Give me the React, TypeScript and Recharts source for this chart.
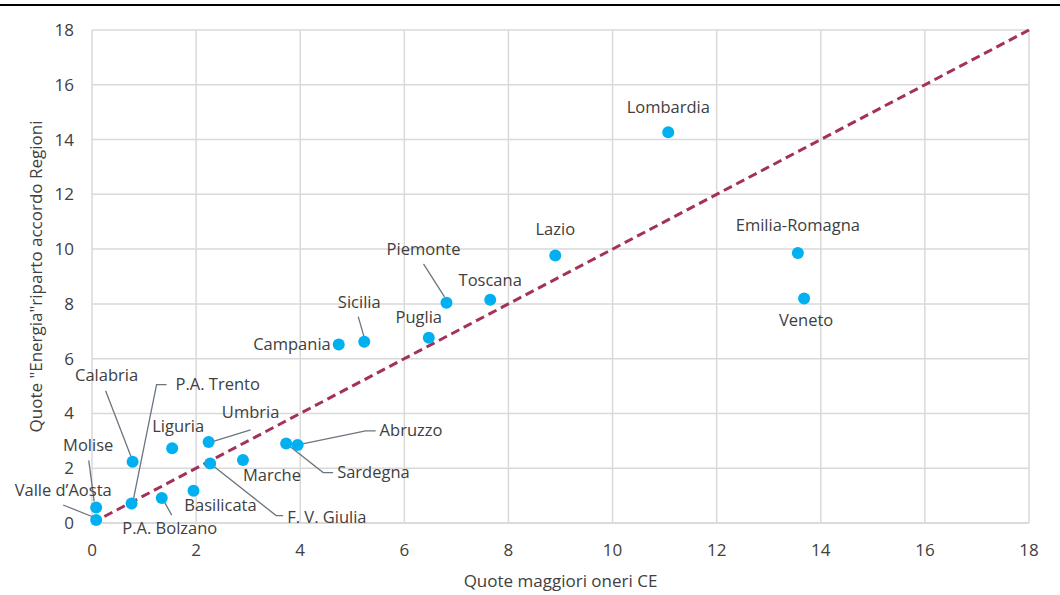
import React from 'react';
import {
  CartesianGrid,
  Label,
  ReferenceLine,
  Scatter,
  ScatterChart,
  XAxis,
  YAxis,
} from 'recharts';

const regions = [
  'Lombardia', 'Emilia-Romagna', 'Veneto', 'Lazio', 'Toscana', 'Piemonte', 'Puglia',
  'Sicilia', 'Campania', 'Liguria', 'Umbria', 'Calabria', 'P.A. Trento', 'Molise',
  'Valle d\u2019Aosta', 'P.A. Bolzano', 'Basilicata', 'Marche', 'F. V. Giulia',
  'Sardegna', 'Abruzzo',
];
const quoteCE = [
  11.07, 13.56, 13.68, 8.9, 7.65, 6.81, 6.47,
  5.23, 4.74, 1.54, 2.24, 0.78, 0.76, 0.08,
  0.08, 1.34, 1.95, 2.9, 2.27,
  3.73, 3.95,
];
const quoteEnergia = [
  14.27, 9.86, 8.2, 9.77, 8.15, 8.04, 6.76,
  6.62, 6.52, 2.73, 2.96, 2.24, 0.71, 0.57,
  0.11, 0.91, 1.18, 2.3, 2.17,
  2.9, 2.85,
];
const xTicks = [0, 2, 4, 6, 8, 10, 12, 14, 16, 18];
const yTicks = [0, 2, 4, 6, 8, 10, 12, 14, 16, 18];

const data = regions.map((name, i) => ({ name, x: quoteCE[i], y: quoteEnergia[i] }));

// label placement, pixels relative to the dot
type Place = { dx: number; dy: number; anchor?: 'start' | 'middle' | 'end'; leader?: number[][] };
const labelPlace: Record<string, Place> = {
  Lombardia: { dx: 0, dy: -26 },
  'Emilia-Romagna': { dx: 0, dy: -28 },
  Veneto: { dx: 2, dy: 21 },
  Lazio: { dx: 0, dy: -27 },
  Toscana: { dx: 0, dy: -20 },
  Piemonte: { dx: -23, dy: -54, leader: [[-23, -39], [-2, -6]] },
  Puglia: { dx: -10, dy: -21 },
  Sicilia: { dx: -5, dy: -40, leader: [[-6, -25], [0, -4]] },
  Campania: { dx: -8, dy: -1, anchor: 'end' },
  Liguria: { dx: 6, dy: -23 },
  Umbria: { dx: 42, dy: -30, leader: [[42, -12], [3, 0]] },
  Calabria: { dx: -26, dy: -87, leader: [[-27, -71], [0, -1]] },
  'P.A. Trento': { dx: 44, dy: -120, anchor: 'start', leader: [[35, -119], [25, -119], [1.6, -3]] },
  Molise: { dx: -8, dy: -63, leader: [[-7.4, -47], [-2, -6]] },
  'Valle d\u2019Aosta': { dx: -33, dy: -30, leader: [[-33, -15], [-3, -3]] },
  'P.A. Bolzano': { dx: 8, dy: 29, leader: [[10, 17], [1, 1]] },
  Basilicata: { dx: 27, dy: 14 },
  Marche: { dx: 29, dy: 14 },
  'F. V. Giulia': { dx: 77, dy: 53, anchor: 'start', leader: [[0, 0], [66, 52], [73, 52]] },
  Sardegna: { dx: 51, dy: 28, anchor: 'start', leader: [[0, 0], [37, 29], [47, 29]] },
  Abruzzo: { dx: 82, dy: -15, anchor: 'start', leader: [[0, 0], [68, -14], [78, -14]] },
};

const FONT = '"Open Sans", sans-serif';
const TEXT = '#404040';

const RegionDot = (props: any) => {
  const { cx, cy, payload } = props;
  const p = labelPlace[payload.name] || { dx: 0, dy: -20 };
  return (
    <g>
      {p.leader && (
        <polyline
          points={p.leader.map(([a, b]) => `${cx + a},${cy + b}`).join(' ')}
          fill="none"
          stroke="#6b7580"
          strokeWidth={1.3}
        />
      )}
      <circle cx={cx} cy={cy} r={6} fill="#00b0f0" />
      <text
        x={cx + p.dx}
        y={cy + p.dy}
        textAnchor={p.anchor || 'middle'}
        dominantBaseline="central"
        fontSize={16.5}
        fontFamily={FONT}
        fill={TEXT}
      >
        {payload.name}
      </text>
    </g>
  );
};

const YTitle = (props: any) => {
  const { viewBox } = props;
  const cx = 35;
  const cy = viewBox.y + viewBox.height / 2;
  return (
    <text
      x={cx}
      y={cy}
      transform={`rotate(-90, ${cx}, ${cy})`}
      textAnchor="middle"
      dominantBaseline="central"
      fontSize={17}
      fontFamily={FONT}
      fill={TEXT}
    >
      Quote "Energia"riparto accordo Regioni
    </text>
  );
};

const XTitle = (props: any) => {
  const { viewBox } = props;
  const cx = viewBox.x + viewBox.width / 2;
  const cy = viewBox.y + 57;
  return (
    <text x={cx} y={cy} textAnchor="middle" dominantBaseline="central" fontSize={17} fontFamily={FONT} fill={TEXT}>
      Quote maggiori oneri CE
    </text>
  );
};

export default function App() {
  return (
    <div style={{ position: 'absolute', left: 0, top: 0, width: 1060, height: 595, background: '#fff' }}>
      <div style={{ position: 'absolute', left: 0, top: 4, width: 1060, height: 2, background: '#000' }} />
      <ScatterChart
        width={1060}
        height={595}
        margin={{ top: 30, right: 31, bottom: 12, left: 0 }}
        style={{ fontFamily: FONT }}
      >
        <CartesianGrid stroke="#d9d9d9" strokeWidth={1.5} />
        <XAxis
          type="number"
          dataKey="x"
          domain={[0, 18]}
          ticks={xTicks}
          height={60}
          axisLine={{ stroke: '#d9d9d9', strokeWidth: 1.5 }}
          tickLine={false}
          tickMargin={15}
          tick={{ fontSize: 17, fill: TEXT }}
        >
          <Label content={<XTitle />} />
        </XAxis>
        <YAxis
          type="number"
          dataKey="y"
          domain={[0, 18]}
          ticks={yTicks}
          width={92}
          axisLine={false}
          tickLine={false}
          tickMargin={12}
          tick={{ fontSize: 17, fill: TEXT }}
        >
          <Label content={<YTitle />} />
        </YAxis>
        <ReferenceLine
          segment={[{ x: 0, y: 0 }, { x: 18, y: 18 }]}
          stroke="#a3315b"
          strokeWidth={3}
          strokeDasharray="9 5"
        />
        <Scatter data={data} shape={<RegionDot />} isAnimationActive={false} />
      </ScatterChart>
    </div>
  );
}
